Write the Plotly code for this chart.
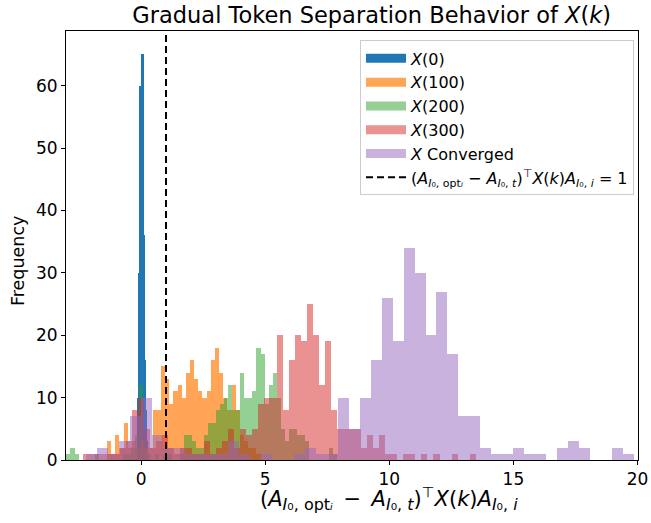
import plotly.graph_objects as go

# ---- data (bin start, bin width, counts) ----
x0_start, x0_width = -0.16, 0.04
x0_counts = [10, 30, 60, 60, 65, 65, 36, 16, 8, 3]

x100_start, x100_width = -1.3816, 0.1674
x100_counts = [3, 1, 4, 2, 6, 2, 3, 2, 3, 2, 2, 8, 8, 15, 13, 9, 11, 12, 10, 14,
               16, 13, 11, 10, 11, 16, 18, 14, 10, 8, 12, 8, 4, 3, 2, 2, 1]

x200_start, x200_width = -3.0133, 0.16297
x200_counts = [1, 2, 1, 0, 0, 0, 0, 1, 0, 0, 0, 0, 0, 0, 1, 1, 2, 4, 12, 3,
               1, 0, 1, 0, 1, 1, 0, 0, 1, 4, 4, 3, 2, 2, 4, 6, 6, 8, 9, 10,
               12, 8, 8, 14, 10, 10, 11, 18, 17, 9, 12, 14, 10, 5, 3, 5, 5, 4, 4, 3,
               0, 0, 0, 0, 0, 2, 1]

x300_start, x300_width = -2.3276, 0.2432
x300_counts = [1, 1, 1, 1, 1, 1, 2, 3, 8, 10, 5, 2, 3, 4, 2, 1, 2, 2, 1, 1,
               3, 1, 2, 3, 5, 2, 5, 4, 5, 9, 10, 10, 20, 8, 16, 20, 19, 25, 20, 12,
               19, 8, 5, 5, 5, 5, 2, 4, 2, 4, 1, 1, 0, 1, 1, 0, 1, 0, 1, 0,
               0, 1, 0, 0, 1]

xc_start, xc_width = -2.2227, 0.4413
xc_counts = [1, 2, 1, 3, 7, 10, 4, 2, 2, 1, 1, 1, 1, 3, 1, 0, 1, 0, 0, 1,
             2, 1, 1, 10, 5, 10, 16, 26, 19, 34, 30, 20, 27, 17, 7, 7, 2, 1, 1, 2,
             1, 1, 0, 2, 3, 2, 0, 0, 2, 1]

series_names = ["<i>X</i>(0)", "<i>X</i>(100)", "<i>X</i>(200)", "<i>X</i>(300)", "<i>X</i> Converged"]
series_colors = ["#1f77b4", "#ff7f0e", "#2ca02c", "#d62728", "#9467bd"]
series_alpha = [1.0, 0.7, 0.5, 0.5, 0.5]

threshold = 1.0


def sub(inner, size):
    return f"<sub><span style='font-size:{size}px'>{inner}</span></sub>"


def expr(s, gap):
    # (A_{I0,opt_i} - A_{I0,t})^T X(k) A_{I0,i}
    return ("(<i>A</i>" + sub("<i>I</i>₀, opt<i>ᵢ</i>", s) + gap + "−" + gap + "<i>A</i>"
            + sub("<i>I</i>₀, <i>t</i>", s) + ")"
            "<sup>⊤</sup><i>X</i>(<i>k</i>)<i>A</i>" + sub("<i>I</i>₀, <i>i</i>", s))


line_label = expr(11, " ") + " = 1"
x_label = expr(16, "\u2002")
y_label = "Frequency"
title_text = "Gradual Token Separation Behavior of <i>X</i>(<i>k</i>)"

x_ticks = [0, 5, 10, 15, 20]
y_ticks = [0, 10, 20, 30, 40, 50, 60]
x_range = [-3.03, 20.02]
y_range = [0, 68.75]

series = [
    (x0_start, x0_width, x0_counts),
    (x100_start, x100_width, x100_counts),
    (x200_start, x200_width, x200_counts),
    (x300_start, x300_width, x300_counts),
    (xc_start, xc_width, xc_counts),
]


def rgba(hex_color, a):
    h = hex_color.lstrip("#")
    r, g, b = int(h[0:2], 16), int(h[2:4], 16), int(h[4:6], 16)
    return f"rgba({r},{g},{b},{a})"


fig = go.Figure()

for (start, width, counts), color, alpha in zip(series, series_colors, series_alpha):
    centers = [start + width * (i + 0.5) for i in range(len(counts))]
    fig.add_trace(go.Bar(
        x=centers, y=counts, width=width,
        marker=dict(color=color, line=dict(width=0)),
        opacity=alpha, showlegend=False, hoverinfo="skip",
    ))

# legend proxies (wide patches like matplotlib)
for name, color, alpha in zip(series_names, series_colors, series_alpha):
    fig.add_trace(go.Scatter(
        x=[None], y=[None], mode="lines", name=name,
        line=dict(color=rgba(color, alpha), width=9),
    ))

fig.add_trace(go.Scatter(
    x=[threshold, threshold], y=y_range, mode="lines", name=line_label,
    line=dict(color="black", width=2, dash="7px,4px"),
    hoverinfo="skip",
))

font_family = "DejaVu Sans"
L, R, T, B = 66, 13, 31, 63
W, H = 651, 523
pw, ph = W - L - R, H - T - B

fig.update_layout(
    width=W, height=H,
    barmode="overlay", bargap=0,
    plot_bgcolor="white", paper_bgcolor="white",
    margin=dict(l=L, r=R, t=T, b=B, autoexpand=False),
    font=dict(family=font_family, color="black", size=16),
    title=dict(
        text=title_text,
        x=0.571, xanchor="center", y=0.972, yanchor="middle",
        font=dict(size=22.5, family=font_family, color="black"),
    ),
    legend=dict(
        x=0.514, y=0.978, xanchor="left", yanchor="top",
        bgcolor="rgba(255,255,255,0.8)", bordercolor="#cccccc", borderwidth=1,
        font=dict(size=16, family=font_family),
        itemwidth=40, tracegroupgap=0,
    ),
    xaxis=dict(
        range=x_range, tickvals=x_ticks, ticks="outside", ticklen=4, tickwidth=1,
        tickcolor="black", showline=True, linecolor="black", linewidth=1, mirror=True,
        showgrid=False, zeroline=False, automargin=False,
        tickfont=dict(size=17, family=font_family),
    ),
    yaxis=dict(
        range=y_range, tickvals=y_ticks, ticks="outside", ticklen=4, tickwidth=1,
        tickcolor="black", showline=True, linecolor="black", linewidth=1, mirror=True,
        showgrid=False, zeroline=False, automargin=False,
        tickfont=dict(size=17, family=font_family),
    ),
    annotations=[
        dict(text=x_label, xref="paper", yref="paper",
             x=(389 - L) / pw, y=(H - B - 499) / ph, xanchor="center", yanchor="middle",
             showarrow=False, font=dict(size=21, family=font_family)),
        dict(text=y_label, xref="paper", yref="paper", textangle=-90,
             x=(18 - L) / pw, y=(H - B - 261) / ph, xanchor="center", yanchor="middle",
             showarrow=False, font=dict(size=17.5, family=font_family)),
    ],
)

fig.write_html(
    "out.html",
    config={"displayModeBar": False},
    post_script="document.body.style.margin='0';document.body.style.overflow='hidden';",
)
